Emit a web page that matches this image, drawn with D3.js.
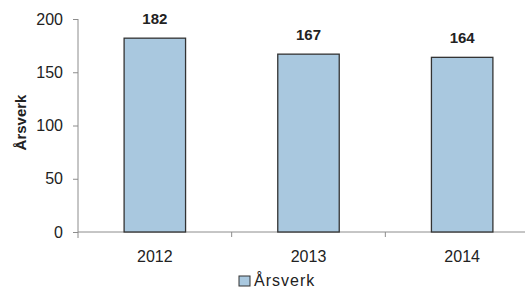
<!DOCTYPE html>
<html>
<head>
<meta charset="utf-8">
<script src="https://cdn.jsdelivr.net/npm/d3@7"></script>
<style>
  body { margin: 0; background: #fff; }
  svg { display: block; font-family: "Liberation Sans", Arial, sans-serif; }
</style>
</head>
<body>
<div id="chart"></div>
<script>
// values
const years = ['2012', '2013', '2014'];
const arsverk = [182, 167, 164];
const yTicks = [0, 50, 100, 150, 200];
const seriesName = 'Årsverk';

const width = 525, height = 288;
const plotLeft = 78, plotTop = 19, plotBottom = 232;

const svg = d3.select('#chart').append('svg')
    .attr('width', width)
    .attr('height', height);

// the plot area runs past the right edge of the picture
const x = d3.scaleBand().domain(years).range([plotLeft, 539]).padding(0);
const y = d3.scaleLinear().domain([0, 200]).range([plotBottom, plotTop]);

const barW = x.bandwidth() * 0.4;

// y axis
const yAxis = svg.append('g')
    .attr('transform', `translate(${plotLeft},0)`)
    .call(d3.axisLeft(y).tickValues(yTicks).tickSize(5).tickPadding(10));
yAxis.select('.domain').attr('stroke', '#8c8c8c').attr('d', `M0,${plotTop}V${plotBottom + 6}`);
yAxis.selectAll('.tick line').attr('stroke', '#8c8c8c');
yAxis.selectAll('.tick text').attr('font-size', 16).attr('fill', '#222');

// x axis
const xAxis = svg.append('g')
    .attr('transform', `translate(0,${plotBottom})`)
    .call(d3.axisBottom(x).tickSize(0).tickPadding(19));
xAxis.select('.domain').attr('stroke', '#8c8c8c').attr('d', `M${plotLeft},0H${width}`);
xAxis.selectAll('.tick text').attr('font-size', 16).attr('fill', '#222');
// category separators
svg.append('g').selectAll('line')
    .data(years.slice(1))
    .join('line')
    .attr('x1', d => x(d)).attr('x2', d => x(d))
    .attr('y1', plotBottom).attr('y2', plotBottom + 5)
    .attr('stroke', '#8c8c8c');

// bars
svg.append('g').selectAll('rect')
    .data(arsverk)
    .join('rect')
    .attr('x', (d, i) => x(years[i]) + (x.bandwidth() - barW) / 2)
    .attr('y', d => y(d))
    .attr('width', barW)
    .attr('height', d => y(0) - y(d))
    .attr('fill', '#a9c8df')
    .attr('stroke', '#333')
    .attr('stroke-width', 1.3);

// value labels
svg.append('g').selectAll('text')
    .data(arsverk)
    .join('text')
    .attr('x', (d, i) => x(years[i]) + x.bandwidth() / 2)
    .attr('y', d => y(d) - 14)
    .attr('text-anchor', 'middle')
    .attr('font-size', 15)
    .attr('font-weight', 'bold')
    .attr('fill', '#222')
    .text(d => d);

// y title
svg.append('text')
    .attr('transform', `translate(26,${(plotTop + plotBottom) / 2 - 3}) rotate(-90)`)
    .attr('text-anchor', 'middle')
    .attr('font-size', 15)
    .attr('font-weight', 'bold')
    .attr('fill', '#222')
    .text(seriesName);

// legend
const lg = svg.append('g').attr('transform', 'translate(239,276)');
lg.append('rect')
    .attr('width', 11).attr('height', 10)
    .attr('fill', '#a9c8df')
    .attr('stroke', '#333');
lg.append('text')
    .attr('x', 15).attr('y', 10)
    .attr('font-size', 16)
    .attr('letter-spacing', 1)
    .attr('fill', '#222')
    .text(seriesName);
</script>
</body>
</html>
